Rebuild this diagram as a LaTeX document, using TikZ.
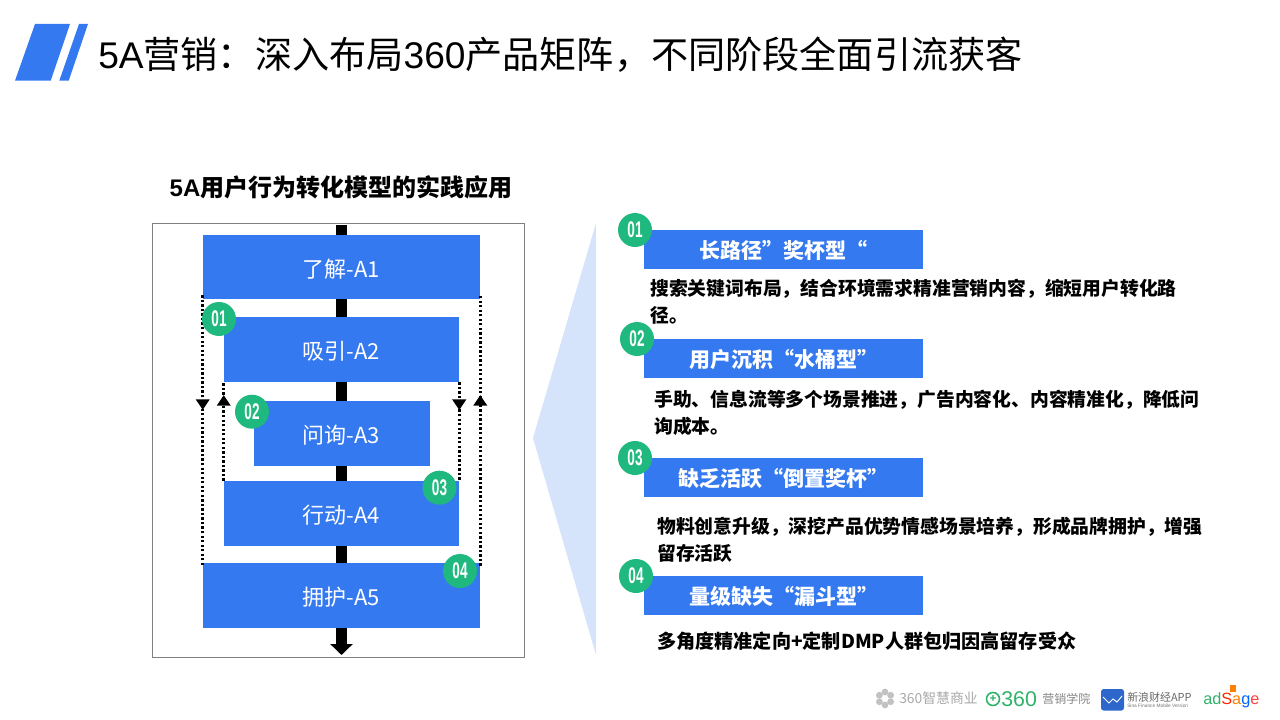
\documentclass[tikz,border=0pt]{standalone}
\usepackage{fontspec}
\setmainfont{Noto Sans CJK SC}
\newfontfamily\latfont{Liberation Sans}
\newfontfamily\numfont[FakeStretch=0.6]{Liberation Sans}
\usetikzlibrary{calc}
\usetikzlibrary{positioning}
\usetikzlibrary{arrows.meta}
\usetikzlibrary{decorations.markings}
\definecolor{barblue}{HTML}{3579F0}
\definecolor{badgegreen}{HTML}{1FB87E}
\definecolor{paleblue}{HTML}{D6E4FB}
\definecolor{logogray}{HTML}{A8A8A8}
\definecolor{logogreen}{HTML}{2FB36A}
\tikzset{
  stagebox/.style={fill=barblue, text=white, inner sep=0pt, text height=15pt, text depth=0pt,
    font=\fontsize{16.5}{20}\selectfont},
  headbar/.style={fill=barblue, text=white, inner sep=0pt, minimum width=209.25pt, minimum height=29.25pt,
    text height=13.6pt, text depth=0pt, font=\fontsize{15.75}{20}\bfseries\selectfont},
  bodytext/.style={anchor=west, align=left, inner sep=0pt, font=\fontsize{14.1}{20.25}\bfseries\selectfont},
  badge/.style={circle, fill=badgegreen, text=white, inner sep=0pt, minimum size=25.5pt,
    font=\fontsize{17}{17}\numfont\bfseries\selectfont},
  spine/.style={line width=8.25pt, black},
  loopline/.style={line width=2.5pt, black, dash pattern=on 1.7pt off 1.7pt},
  tipat/.style={postaction={decorate, decoration={markings, mark=at position #1 with {\arrow{Triangle[width=10pt,length=8pt]}}}}},
}
\begin{document}
\begin{tikzpicture}[x=0.75pt, y=-0.75pt]
    \useasboundingbox (0, 0) rectangle (1280, 720);

    % corner mark
    \fill[barblue] (15, 80.7) -- (35, 24) -- (70, 24) -- (50.7, 80.7) -- cycle;
    \fill[barblue] (59.3, 80.7) -- (79, 24) -- (88, 24) -- (68.7, 80.7) -- cycle;

    % title
    \node[anchor=west, inner sep=0pt, font=\fontsize{27.85}{32}\selectfont] (title) at (98, 55)
      {{\latfont 5A}营销：深入布局{\latfont 360}产品矩阵，不同阶段全面引流获客};
    \node[font=\fontsize{18}{22}\bfseries\selectfont] (modeltitle) at (341, 187) {{\latfont 5A}用户行为转化模型的实践应用};

    % outer box
    \draw[gray, line width=0.8pt] (152.5, 223.5) rectangle (524.5, 657.5);

    % stages
    \foreach \name/\cy/\bw/\bh/\lab in {a1/267/277/64/了解-A1, a2/349.5/235/65/吸引-A2,
      a3/433.5/176/65/问询-A3, a4/513.5/235/65/行动-A4, a5/595.5/277/65/拥护-A5}
    \node[stagebox, minimum width=\bw*0.75pt, minimum height=\bh*0.75pt] (\name) at (341.5, \cy) {\lab};

    % centre line
    \coordinate (spinetop) at (341.5, 225);
    \coordinate (spineend) at (341.5, 655);
    \draw[spine] (spinetop) -- (a1.north);
    \draw[spine] (a1.south) -- (a2.north);
    \draw[spine] (a2.south) -- (a3.north);
    \draw[spine] (a3.south) -- (a4.north);
    \draw[spine] (a4.south) -- (a5.north);
    \draw[spine, -{Triangle[width=16.5pt, length=8.25pt]}] (a5.south) -- (spineend);

    % loops
    \draw[loopline, tipat=0.424] ($(a1.south west)+(0,-4)$) -- ($(a5.north west)+(0,3)$);
    \draw[loopline, tipat=0.631] ($(a5.north east)+(0,3)$) -- ($(a1.south east)+(0,-4)$);
    \draw[loopline, tipat=0.87] (a4.north west) -- (a2.south west);
    \draw[loopline, tipat=0.283] (a2.south east) -- (a4.north east);

    % left badges
    \node[badge] (l1) at (219, 319) {01};
    \node[badge] (l2) at (252, 411.7) {02};
    \node[badge] (l3) at (439.5, 487.7) {03};
    \node[badge] (l4) at (460, 571) {04};

    % pointer
    \fill[paleblue] (596, 223) -- (533, 438) -- (596, 655) -- cycle;

    % right bars
    \foreach \name/\cy/\lab in {b1/249.5/长路径”奖杯型“, b2/358.5/用户沉积“水桶型”,
      b3/477.5/缺乏活跃“倒置奖杯”, b4/595.5/量级缺失“漏斗型”}
    \node[headbar] (\name) at (783.5, \cy) {\lab};

    \node[badge] (r1) at (635, 230) {01};
    \node[badge] (r2) at (637, 339) {02};
    \node[badge] (r3) at (635, 458) {03};
    \node[badge] (r4) at (636, 576) {04};

    % right texts
    \node[bodytext] (t1) at (650, 301.5) {搜索关键词布局，结合环境需求精准营销内容，缩短用户转化路\\径。};
    \node[bodytext] (t2) at (654, 412.5) {手助、信息流等多个场景推进，广告内容化、内容精准化，降低问\\询成本。};
    \node[bodytext] (t3) at (657, 539.5) {物料创意升级，深挖产品优势情感场景培养，形成品牌拥护，增强\\留存活跃};
    \node[bodytext, font=\fontsize{14.35}{20.25}\bfseries\selectfont] (t4) at (657, 641) {多角度精准定向+定制DMP人群包归因高留存受众};

    % footer logos
    \foreach \ang in {0, 60, ..., 300}
    \fill[logogray!70] (885, 698.5) ++(\ang+30:6.5) circle (3.4);
    \node[anchor=west, inner sep=0pt, text=logogray, font=\fontsize{10.4}{12}\selectfont] (f1) at (899, 698.5) {360智慧商业};
    \draw[logogreen, line width=1.2pt] (993, 699) circle (6.5);
    \node[text=logogreen, inner sep=0pt, font=\fontsize{8}{8}\bfseries\selectfont] (f2) at (993, 699) {+};
    \node[anchor=west, inner sep=0pt, text=logogreen, font=\fontsize{16}{18}\latfont\selectfont] (f3) at (1001, 699) {360};
    \node[anchor=west, inner sep=0pt, text=logogray!80!black, font=\fontsize{9}{11}\selectfont] (f4) at (1042, 699) {营销学院};
    \fill[barblue!85!black, rounded corners=2pt] (1101, 689) rectangle (1124, 710.5);
    \draw[white, line width=0.7pt] (1103, 697) -- (1109, 703) -- (1113, 699) -- (1117, 702) -- (1122, 696);
    \node[anchor=west, inner sep=0pt, text=black!60, font=\fontsize{8.2}{10}\selectfont] (f5) at (1127, 697) {新浪财经APP};
    \node[anchor=west, inner sep=0pt, text=black!55, font=\fontsize{3.6}{4}\latfont\selectfont] (f6) at (1127, 705.5) {Sina Finance Mobile Version};
    \node[anchor=west, inner sep=0pt, font=\fontsize{12.2}{16}\latfont\selectfont] (f7) at (1203, 700)
      {\textcolor{logogreen}{ad}\textcolor{red!70!orange}{S}\textcolor{orange}{a}\textcolor{blue!60!cyan}{g}\textcolor{red!75}{e}};
    \fill[orange] (1230, 685) rectangle (1236, 692);
\end{tikzpicture}
\end{document}
